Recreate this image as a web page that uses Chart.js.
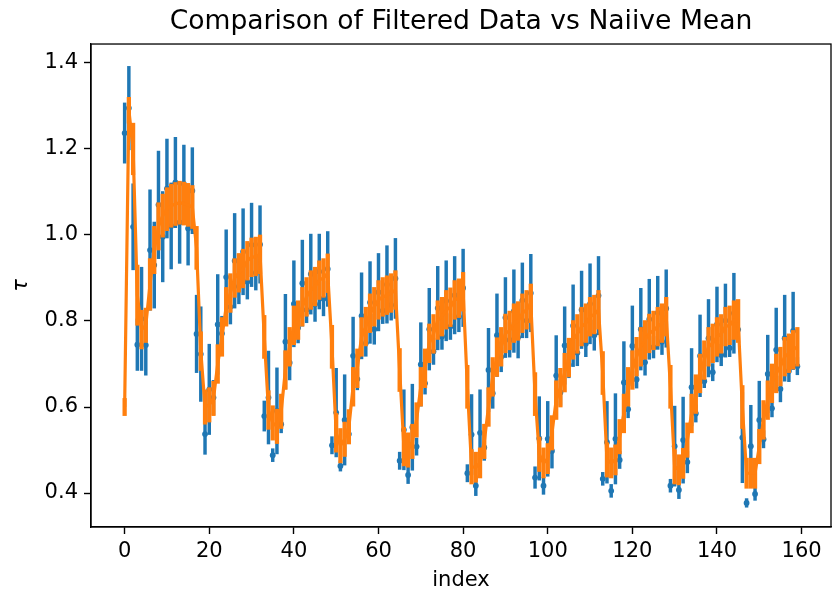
<!DOCTYPE html>
<html>
<head>
<meta charset="utf-8">
<script src="https://cdn.jsdelivr.net/npm/chart.js"></script>
<style>
    html, body { margin: 0; padding: 0; background: #fff; }
</style>
</head>
<body>
<canvas id="chart" width="835" height="596"></canvas>
<script>
// naive mean per index (blue) with its std
const blueVal = [
    1.237, 1.295, 1.019, 0.745, 0.805, 0.744, 0.965, 0.930, 1.070, 0.996, 1.108, 1.021, 1.122, 1.029, 1.119, 1.015, 1.103,
    0.770, 0.723, 0.537, 0.641, 0.622, 0.792, 0.771, 0.902, 0.833, 0.940, 0.880, 0.961, 0.891, 0.977, 0.912, 0.978,
    0.579, 0.622, 0.488, 0.591, 0.560, 0.752, 0.703, 0.840, 0.784, 0.888, 0.826, 0.909, 0.839, 0.915, 0.852, 0.921,
    0.511, 0.587, 0.463, 0.570, 0.537, 0.719, 0.665, 0.812, 0.748, 0.843, 0.781, 0.867, 0.824, 0.885, 0.837, 0.899,
    0.475, 0.547, 0.442, 0.553, 0.508, 0.699, 0.655, 0.781, 0.729, 0.830, 0.764, 0.847, 0.787, 0.860, 0.810, 0.877,
    0.446, 0.536, 0.417, 0.540, 0.506, 0.686, 0.632, 0.767, 0.717, 0.808, 0.756, 0.823, 0.762, 0.848, 0.801, 0.865,
    0.436, 0.527, 0.417, 0.526, 0.498, 0.673, 0.634, 0.743, 0.698, 0.789, 0.726, 0.826, 0.747, 0.840, 0.767, 0.859,
    0.433, 0.518, 0.405, 0.526, 0.477, 0.657, 0.595, 0.742, 0.664, 0.781, 0.704, 0.804, 0.739, 0.819, 0.752, 0.829,
    0.417, 0.509, 0.407, 0.523, 0.472, 0.646, 0.585, 0.719, 0.660, 0.760, 0.681, 0.792, 0.721, 0.801, 0.737, 0.818,
    0.780, 0.529, 0.377, 0.509, 0.398, 0.570, 0.525, 0.677, 0.597, 0.733, 0.642, 0.760, 0.684, 0.777, 0.695
];
const blueErr = [
    0.070, 0.097, 0.100, 0.060, 0.120, 0.070, 0.140, 0.100, 0.125, 0.105, 0.115, 0.100, 0.105, 0.095, 0.090, 0.085, 0.100,
    0.090, 0.110, 0.047, 0.105, 0.040, 0.116, 0.040, 0.110, 0.040, 0.110, 0.040, 0.100, 0.040, 0.097, 0.040, 0.090,
    0.035, 0.108, 0.015, 0.100, 0.020, 0.110, 0.040, 0.100, 0.035, 0.100, 0.030, 0.093, 0.040, 0.087, 0.040, 0.087,
    0.020, 0.103, 0.012, 0.105, 0.020, 0.090, 0.025, 0.100, 0.030, 0.095, 0.035, 0.090, 0.030, 0.090, 0.035, 0.093,
    0.020, 0.093, 0.020, 0.100, 0.020, 0.097, 0.025, 0.095, 0.030, 0.097, 0.030, 0.093, 0.030, 0.090, 0.035, 0.090,
    0.020, 0.093, 0.023, 0.100, 0.030, 0.097, 0.035, 0.096, 0.035, 0.093, 0.040, 0.096, 0.048, 0.087, 0.040, 0.090,
    0.025, 0.097, 0.020, 0.087, 0.040, 0.093, 0.030, 0.090, 0.030, 0.095, 0.030, 0.090, 0.030, 0.093, 0.035, 0.091,
    0.015, 0.095, 0.015, 0.105, 0.020, 0.095, 0.020, 0.093, 0.020, 0.095, 0.030, 0.093, 0.025, 0.085, 0.030, 0.090,
    0.015, 0.093, 0.020, 0.100, 0.025, 0.090, 0.020, 0.095, 0.015, 0.090, 0.020, 0.087, 0.025, 0.085, 0.020, 0.093,
    0.020, 0.105, 0.010, 0.095, 0.015, 0.090, 0.020, 0.090, 0.020, 0.097, 0.030, 0.100, 0.025, 0.090, 0.020
];
// filtered data (orange) with its std
const orangeVal = [
    0.600, 1.290, 1.200, 0.860, 0.780, 0.790, 0.885, 0.965, 1.020, 1.045, 1.060, 1.068, 1.072, 1.075, 1.073, 1.070, 1.065,
    0.970, 0.730, 0.600, 0.605, 0.620, 0.700, 0.763, 0.833, 0.865, 0.900, 0.912, 0.922, 0.940, 0.948, 0.950, 0.955,
    0.763, 0.593, 0.563, 0.555, 0.590, 0.686, 0.740, 0.790, 0.802, 0.833, 0.856, 0.872, 0.880, 0.895, 0.900, 0.911,
    0.740, 0.540, 0.510, 0.525, 0.554, 0.647, 0.690, 0.763, 0.787, 0.818, 0.833, 0.849, 0.856, 0.860, 0.865, 0.872,
    0.686, 0.508, 0.500, 0.520, 0.570, 0.647, 0.690, 0.748, 0.770, 0.802, 0.810, 0.826, 0.832, 0.849, 0.853, 0.868,
    0.647, 0.461, 0.460, 0.470, 0.520, 0.600, 0.670, 0.716, 0.740, 0.771, 0.778, 0.795, 0.800, 0.818, 0.826, 0.841,
    0.630, 0.490, 0.470, 0.480, 0.540, 0.616, 0.645, 0.680, 0.715, 0.756, 0.770, 0.787, 0.795, 0.810, 0.815, 0.826,
    0.679, 0.477, 0.470, 0.477, 0.531, 0.585, 0.647, 0.686, 0.717, 0.740, 0.756, 0.771, 0.778, 0.787, 0.795, 0.810,
    0.647, 0.461, 0.454, 0.469, 0.523, 0.585, 0.630, 0.678, 0.709, 0.740, 0.748, 0.763, 0.770, 0.787, 0.790, 0.802,
    0.800, 0.600, 0.446, 0.446, 0.446, 0.508, 0.570, 0.616, 0.655, 0.678, 0.694, 0.717, 0.725, 0.733, 0.740
];
const orangeErr = [
    0.020, 0.030, 0.060, 0.070, 0.045, 0.040, 0.060, 0.055, 0.055, 0.050, 0.050, 0.050, 0.050, 0.050, 0.050, 0.050, 0.050,
    0.050, 0.045, 0.040, 0.040, 0.040, 0.045, 0.045, 0.045, 0.045, 0.045, 0.045, 0.045, 0.045, 0.045, 0.045, 0.045,
    0.050, 0.045, 0.040, 0.040, 0.040, 0.045, 0.045, 0.045, 0.045, 0.045, 0.045, 0.045, 0.045, 0.045, 0.045, 0.045,
    0.050, 0.045, 0.040, 0.040, 0.040, 0.045, 0.045, 0.045, 0.045, 0.045, 0.045, 0.045, 0.045, 0.045, 0.045, 0.045,
    0.050, 0.045, 0.040, 0.040, 0.040, 0.045, 0.045, 0.045, 0.045, 0.045, 0.045, 0.045, 0.045, 0.045, 0.045, 0.045,
    0.050, 0.040, 0.035, 0.035, 0.040, 0.045, 0.045, 0.045, 0.045, 0.045, 0.045, 0.045, 0.045, 0.045, 0.045, 0.045,
    0.050, 0.040, 0.035, 0.035, 0.040, 0.045, 0.045, 0.045, 0.045, 0.045, 0.045, 0.045, 0.045, 0.045, 0.045, 0.045,
    0.050, 0.040, 0.035, 0.035, 0.040, 0.045, 0.045, 0.045, 0.045, 0.045, 0.045, 0.045, 0.045, 0.045, 0.045, 0.045,
    0.050, 0.040, 0.035, 0.035, 0.040, 0.045, 0.045, 0.045, 0.045, 0.045, 0.045, 0.045, 0.045, 0.045, 0.045, 0.045,
    0.050, 0.050, 0.035, 0.035, 0.035, 0.040, 0.045, 0.045, 0.045, 0.045, 0.045, 0.045, 0.045, 0.045, 0.045
];
const xTicks = [0, 20, 40, 60, 80, 100, 120, 140, 160];
const yTicks = [0.4, 0.6, 0.8, 1.0, 1.2, 1.4];

const BLUE = '#1f77b4';
const ORANGE = '#ff7f0e';
const FONT = 'DejaVu Sans';

function points(vals) {
    return vals.map((v, i) => ({x: i, y: v}));
}
function errBars(vals, errs) {
    return vals.map((v, i) => ({x: i, y: [v - errs[i], v + errs[i]]}));
}

// matplotlib style box around the axes
const frame = {
    id: 'frame',
    afterDatasetsDraw(chart) {
        const {ctx, chartArea: a} = chart;
        ctx.save();
        ctx.strokeStyle = '#000';
        ctx.lineWidth = 1.3;
        ctx.strokeRect(a.left, a.top, a.right - a.left, a.bottom - a.top);
        ctx.restore();
    }
};

new Chart(document.getElementById('chart'), {
    type: 'scatter',
    data: {
        datasets: [
            {
                type: 'bar',
                data: errBars(blueVal, blueErr),
                backgroundColor: BLUE,
                barThickness: 2.8,
                grouped: false,
                borderWidth: 0,
                order: 3
            },
            {
                type: 'scatter',
                data: points(blueVal),
                backgroundColor: BLUE,
                borderWidth: 0,
                pointRadius: 2.9,
                order: 2
            },
            {
                type: 'bar',
                data: errBars(orangeVal, orangeErr),
                backgroundColor: ORANGE,
                barThickness: 3.6,
                grouped: false,
                borderWidth: 0,
                order: 1
            },
            {
                type: 'line',
                data: points(orangeVal),
                borderColor: ORANGE,
                borderWidth: 3.2,
                pointRadius: 0,
                tension: 0,
                fill: false,
                order: 0
            }
        ]
    },
    options: {
        responsive: false,
        animation: false,
        events: [],
        layout: { padding: { left: 0, right: 1, top: 0, bottom: 0 } },
        plugins: {
            legend: { display: false },
            tooltip: { enabled: false },
            title: {
                display: true,
                fullSize: false,
                text: 'Comparison of Filtered Data vs Naiive Mean',
                color: '#000',
                font: { family: FONT, size: 26.6, weight: 'normal' },
                padding: { top: 6, bottom: 6.1 }
            }
        },
        scales: {
            x: {
                type: 'linear',
                min: -7.95,
                max: 166.95,
                offset: false,
                afterBuildTicks: axis => { axis.ticks = xTicks.map(v => ({value: v})); },
                afterFit: axis => {
                    axis.height = 69;
                    axis.paddingLeft = 0;
                    axis.paddingRight = 0;
                },
                ticks: {
                    color: '#000',
                    font: { family: FONT, size: 21 },
                    padding: 5,
                    maxRotation: 0,
                    autoSkip: false
                },
                grid: {
                    offset: false,
                    drawOnChartArea: false,
                    drawTicks: true,
                    tickLength: 7,
                    tickWidth: 1.4,
                    tickColor: '#000'
                },
                border: { display: true, color: '#000', width: 1.3 },
                title: {
                    display: true,
                    text: 'index',
                    color: '#000',
                    font: { family: FONT, size: 21 },
                    padding: { top: 0, bottom: 3 }
                }
            },
            y: {
                type: 'linear',
                min: 0.321,
                max: 1.444,
                beginAtZero: false,
                afterBuildTicks: axis => { axis.ticks = yTicks.map(v => ({value: v})); },
                afterFit: axis => { axis.width = 91; },
                ticks: {
                    color: '#000',
                    font: { family: FONT, size: 21 },
                    padding: 6,
                    callback: v => v.toFixed(1)
                },
                grid: {
                    drawOnChartArea: false,
                    drawTicks: true,
                    tickLength: 7,
                    tickWidth: 1.4,
                    tickColor: '#000'
                },
                border: { display: true, color: '#000', width: 1.3 },
                title: {
                    display: true,
                    text: 'τ',
                    color: '#000',
                    font: { family: FONT, size: 21, style: 'italic' },
                    padding: { top: 9, bottom: 0 }
                }
            }
        }
    },
    plugins: [frame]
});
</script>
</body>
</html>
